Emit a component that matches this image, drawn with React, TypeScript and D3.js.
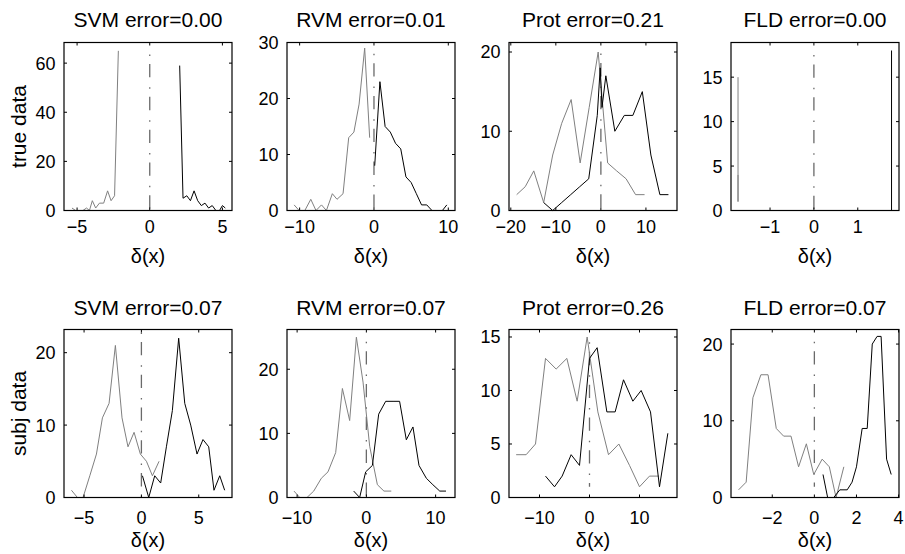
import React from "react";
import * as d3 from "d3";

// ---------- text ----------
const titles = [
  "SVM error=0.00", "RVM error=0.01", "Prot error=0.21", "FLD error=0.00",
  "SVM error=0.07", "RVM error=0.07", "Prot error=0.26", "FLD error=0.07",
];
const rowLabels = ["true data", "subj data"];
const xLabelText = "δ(x)";

// ---------- axis ranges & ticks ----------
const xDomains: [number, number][] = [
  [-5.9, 5.66], [-11.7, 10.9], [-20.4, 16.9], [-1.89, 1.94],
  [-6.75, 7.9], [-11.46, 12.8], [-16.1, 17.5], [-3.96, 4.02],
];
const yDomains: [number, number][] = [
  [0, 68.4], [0, 30], [0, 21.2], [0, 18.9],
  [0, 23.2], [0, 26.2], [0, 15.7], [0, 21.9],
];
const xTicks = [
  [-5, 0, 5], [-10, 0, 10], [-20, -10, 0, 10], [-1, 0, 1],
  [-5, 0, 5], [-10, 0, 10], [-10, 0, 10], [-2, 0, 2, 4],
];
const yTicks = [
  [0, 20, 40, 60], [0, 10, 20, 30], [0, 10, 20], [0, 5, 10, 15],
  [0, 10, 20], [0, 10, 20], [0, 5, 10, 15], [0, 10, 20],
];
// decision boundary line at 0: [low, high] counts
const boundaryRanges: [number, number][] = [
  [0, 63.5], [0, 28], [0, 19.8], [0, 17.5],
  [0, 22.8], [0, 24.3], [1, 14.5], [1.4, 20.3],
];

// ---------- data: SVM, true data ----------
const svmTrueGrayX = [-5.35, -5.1, -4.85, -4.6, -4.35, -4.15, -3.95, -3.72, -3.46, -3.17, -2.9, -2.66, -2.42, -2.16];
const svmTrueGrayY = [1, 0, 0, 0, 1, 0, 4, 1, 3, 3, 8, 4, 6, 65];
const svmTrueBlackX = [2.06, 2.29, 2.55, 2.8, 3.05, 3.3, 3.55, 3.8, 4.05, 4.3, 4.55, 4.8, 5.0, 5.2];
const svmTrueBlackY = [59, 5, 6, 4, 8, 4, 2, 3, 1, 2, 0, 0, 2, 1];

// ---------- data: RVM, true data ----------
const rvmTrueGrayX = [-10.74, -10.07, -9.3, -8.5, -7.8, -7.06, -6.4, -5.6, -4.97, -4.16, -3.4, -2.7, -2.0, -1.25, -0.58];
const rvmTrueGrayY = [1, 0, 0, 2, 0, 1, 0, 3, 2, 3, 13, 14, 19, 29, 13];
const rvmTrueBlackX = [0.1, 0.8, 1.5, 2.2, 2.9, 3.6, 4.3, 5.0, 5.7, 6.4, 7.1, 7.8, 8.5, 9.2, 9.8];
const rvmTrueBlackY = [8, 23, 15, 14, 12, 11, 6, 5, 3, 1, 1, 0, 0, 0, 1];

// ---------- data: Prot, true data ----------
const protTrueGrayX = [-18.7, -16.8, -14.9, -12.7, -10.7, -8.7, -6.6, -4.6, -2.6, -0.6, 1.5, 3.5, 5.6, 7.7, 9.7];
const protTrueGrayY = [2, 3, 5, 1, 7, 11, 14, 6, 13, 20, 6, 5, 4, 2, 2];
const protTrueBlackX = [-12.7, -10.7, -8.7, -6.7, -4.7, -2.7, -0.8, -0.15, 0.25, 1.1, 3.1, 5.2, 7.1, 9.2, 11.1, 13.1, 15.0];
const protTrueBlackY = [1, 0, 1, 2, 3, 4, 12, 18, 13, 17, 10, 12, 12, 15, 7, 2, 2];

// ---------- data: FLD, true data ----------
const fldTrueGrayX = [-1.73, -1.73, -1.73];
const fldTrueGrayY = [15, 1, 4];
const fldTrueBlackX = [1.77, 1.77];
const fldTrueBlackY = [18, 0];

// ---------- data: SVM, subj data ----------
const svmSubjGrayX = [-6.1, -5.58, -5.09, -4.5, -3.92, -3.4, -2.82, -2.27, -1.69, -1.17, -0.64, -0.09, 0.44, 0.96, 1.54];
const svmSubjGrayY = [1, 0, 0, 3, 6, 11, 13, 21, 11, 7, 9, 6, 5, 3, 5];
const svmSubjBlackX = [0.09, 0.64, 1.16, 1.68, 2.18, 2.7, 3.25, 3.78, 4.3, 4.85, 5.37, 5.87, 6.33, 6.83, 7.26];
const svmSubjBlackY = [3, 0, 3, 2, 7, 12, 22, 13, 10, 6, 8, 7, 1, 3, 1];

// ---------- data: RVM, subj data ----------
const rvmSubjGrayX = [-10.45, -9.62, -8.57, -7.6, -6.5, -5.54, -4.43, -3.46, -2.41, -1.44, -0.48, 0.48, 1.59, 2.54, 3.6];
const rvmSubjGrayY = [1, 0, 0, 1, 3, 4, 7, 17, 12, 25, 18, 8, 2, 1, 1];
const rvmSubjBlackX = [-1.83, -0.97, -0.1, 0.87, 1.78, 2.79, 3.85, 4.8, 5.77, 6.73, 7.6, 8.66, 9.6, 10.6, 11.5];
const rvmSubjBlackY = [1, 0, 4, 5, 13, 15, 15, 15, 9, 11, 5, 3, 2, 1, 1];

// ---------- data: Prot, subj data ----------
const protSubjGrayX = [-14.67, -12.67, -10.8, -8.8, -6.67, -4.53, -2.47, -0.47, 1.67, 3.8, 5.87, 8, 10, 12, 13.87];
const protSubjGrayY = [4, 4, 5, 13, 12, 13, 9, 15, 8, 4, 5, 3, 1, 2, 2];
const protSubjBlackX = [-8.8, -7, -5.47, -3.67, -2, 0, 1.53, 3.47, 5.13, 6.8, 8.67, 10.33, 12.2, 14, 15.67];
const protSubjBlackY = [2, 1, 2, 4, 3, 13, 14, 8, 8, 11, 9, 10, 8, 1, 6];

// ---------- data: FLD, subj data ----------
const fldSubjGrayX = [-3.6, -3.24, -2.92, -2.54, -2.2, -1.81, -1.46, -1.11, -0.75, -0.38, -0.03, 0.37, 0.71, 1.03, 1.4];
const fldSubjGrayY = [1, 2, 13, 16, 16, 9, 8, 8, 4, 7, 3, 5, 4, 0, 4];
const fldSubjBlackX = [0.41, 0.63, 0.92, 1.21, 1.56, 1.79, 2.0, 2.27, 2.51, 2.75, 2.98, 3.17, 3.43, 3.65];
const fldSubjBlackY = [3, 0, 0, 1, 1, 2, 4, 9, 9, 20, 21, 21, 5, 3];

const grayXs = [svmTrueGrayX, rvmTrueGrayX, protTrueGrayX, fldTrueGrayX, svmSubjGrayX, rvmSubjGrayX, protSubjGrayX, fldSubjGrayX];
const grayYs = [svmTrueGrayY, rvmTrueGrayY, protTrueGrayY, fldTrueGrayY, svmSubjGrayY, rvmSubjGrayY, protSubjGrayY, fldSubjGrayY];
const blackXs = [svmTrueBlackX, rvmTrueBlackX, protTrueBlackX, fldTrueBlackX, svmSubjBlackX, rvmSubjBlackX, protSubjBlackX, fldSubjBlackX];
const blackYs = [svmTrueBlackY, rvmTrueBlackY, protTrueBlackY, fldTrueBlackY, svmSubjBlackY, rvmSubjBlackY, protSubjBlackY, fldSubjBlackY];

// ---------- layout ----------
const W = 905;
const H = 554;
const colLefts = [64, 287, 509, 731];
const rowTops = [42.5, 329.5];
const PW = 168;
const PH = 168;
const FONT = '"Liberation Sans", Arial, Helvetica, sans-serif';
const GRAY = "#808080";
const fmt = d3.format("d");

function Panel({ i }: { i: number }) {
  const col = i % 4;
  const row = Math.floor(i / 4);
  const left = colLefts[col];
  const top = rowTops[row];
  const x = d3.scaleLinear().domain(xDomains[i]).range([left, left + PW]);
  const y = d3.scaleLinear().domain(yDomains[i]).range([top + PH, top]);
  const line = d3
    .line<[number, number]>()
    .x((d) => x(d[0]))
    .y((d) => y(d[1]));
  const gray = grayXs[i].map((v, k) => [v, grayYs[i][k]] as [number, number]);
  const black = blackXs[i].map((v, k) => [v, blackYs[i][k]] as [number, number]);
  const tickLabelY = row === 0 ? top + PH + 22.5 : top + PH + 26.5;
  const xLabelY = row === 0 ? top + PH + 52 : top + PH + 49.5;
  const titleY = row === 0 ? top - 16 : top - 14.5;
  const tl = 3;
  const [bLo, bHi] = boundaryRanges[i];
  return (
    <g>
      <rect x={left} y={top} width={PW} height={PH} fill="white" />
      {/* boundary */}
      <line
        x1={x(0)}
        x2={x(0)}
        y1={y(bHi)}
        y2={y(bLo)}
        stroke="#6a6a6a"
        strokeWidth={1.3}
        strokeDasharray="1.5,8,13.3,10"
      />
      <path d={line(gray) || ""} fill="none" stroke={GRAY} strokeWidth={1} strokeLinejoin="miter" />
      <path d={line(black) || ""} fill="none" stroke="#000" strokeWidth={1} strokeLinejoin="miter" />
      {/* box */}
      <rect x={left} y={top} width={PW} height={PH} fill="none" stroke="#000" strokeWidth={1.2} />
      {/* ticks */}
      {xTicks[i].map((t) => (
        <g key={"x" + t}>
          <line x1={x(t)} x2={x(t)} y1={top + PH} y2={top + PH - tl} stroke="#000" />
          <line x1={x(t)} x2={x(t)} y1={top} y2={top + tl} stroke="#000" />
          <text x={x(t)} y={tickLabelY} textAnchor="middle" fontSize={18} fontFamily={FONT}>
            {fmt(t)}
          </text>
        </g>
      ))}
      {yTicks[i].map((t) => (
        <g key={"y" + t}>
          <line x1={left} x2={left + tl} y1={y(t)} y2={y(t)} stroke="#000" />
          <line x1={left + PW} x2={left + PW - tl} y1={y(t)} y2={y(t)} stroke="#000" />
          <text x={left - 8.5} y={y(t)} dy="0.36em" textAnchor="end" fontSize={18} fontFamily={FONT}>
            {fmt(t)}
          </text>
        </g>
      ))}
      <text x={left + PW / 2} y={titleY} textAnchor="middle" fontSize={21} fontFamily={FONT}>
        {titles[i]}
      </text>
      <text x={left + PW / 2} y={xLabelY} textAnchor="middle" fontSize={20} fontFamily={FONT}>
        {xLabelText}
      </text>
      {col === 0 && (
        <text
          transform={`translate(26,${top + PH / 2}) rotate(-90)`}
          textAnchor="middle"
          fontSize={21}
          fontFamily={FONT}
        >
          {rowLabels[row]}
        </text>
      )}
    </g>
  );
}

export default function App() {
  return (
    <svg
      width={W}
      height={H}
      style={{ position: "absolute", left: 0, top: 0, background: "#fff" }}
    >
      <rect width={W} height={H} fill="#fff" />
      {titles.map((_, i) => (
        <Panel key={i} i={i} />
      ))}
    </svg>
  );
}
